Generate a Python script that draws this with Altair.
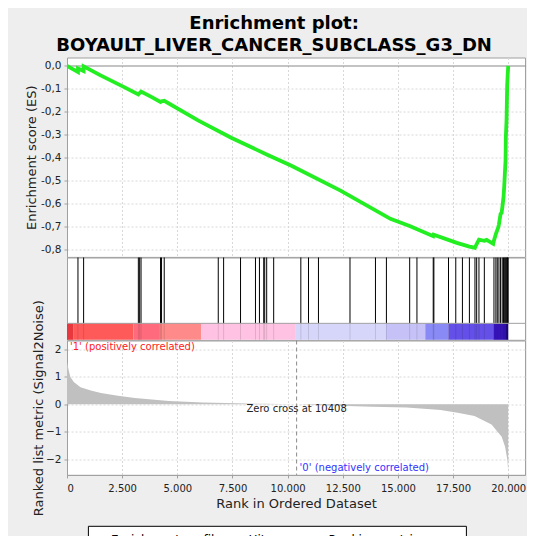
import altair as alt
import pandas as pd

TITLE = ["Enrichment plot:", "BOYAULT_LIVER_CANCER_SUBCLASS_G3_DN"]

# Running enrichment score (rank, ES)
es_rank = [0, 497, 498, 753, 754, 1500, 2500, 3234, 3293, 3356, 3800, 4240, 4285, 4407,
           5940, 7442, 9100, 10150, 12400, 14660, 15560, 16600, 16620, 17670, 18240,
           18490, 18570, 18673, 18917, 19020, 19320, 19353, 19441, 19503, 19549, 19578,
           19653, 19700, 19743, 19788, 19820, 19858, 19879, 19892, 19923, 19937, 19953,
           19975, 20000]
es_value = [0.0, -0.027, -0.011, -0.022, -0.002, -0.040, -0.088, -0.124, -0.118, -0.112,
            -0.134, -0.157, -0.154, -0.152, -0.237, -0.313, -0.388, -0.434, -0.543,
            -0.666, -0.698, -0.742, -0.735, -0.771, -0.787, -0.792, -0.776, -0.757,
            -0.762, -0.758, -0.775, -0.760, -0.732, -0.715, -0.703, -0.690, -0.645,
            -0.640, -0.608, -0.570, -0.521, -0.450, -0.412, -0.310, -0.237, -0.164,
            -0.084, -0.040, 0.0]

# Positions of the gene-set members in the ranked list
hit_rank = [497, 753, 3234, 3293, 3356, 4240, 4285, 4407, 6856, 7099, 7866, 8543, 8723,
            8917, 8962, 9052, 9368, 10599, 10947, 11398, 12827, 13982, 14478, 15533,
            15862, 16600, 16630, 17293, 17622, 17924, 18240, 18492, 18569, 18673, 18917,
            19353, 19441, 19503, 19578, 19653, 19728, 19788, 19820, 19858, 19890, 19930,
            19955, 19975, 19995]

# Ranked list metric (Signal2Noise)
metric_rank = [0, 77, 153, 307, 613, 1078, 1538, 2308, 3076, 4615, 6157, 7695, 9000,
               10408, 10768, 12314, 13852, 15394, 16163, 16933, 17704, 18471, 19242,
               19703, 19857, 19965, 20000]
metric_value = [1.55, 1.24, 0.99, 0.81, 0.62, 0.50, 0.41, 0.31, 0.23, 0.12, 0.06, 0.035,
                0.015, 0.0, -0.01, -0.05, -0.09, -0.12, -0.16, -0.21, -0.31, -0.43,
                -0.74, -1.18, -1.55, -2.05, -2.48]

# Colour bar segments
bar_start = [0, 302, 3009, 4213, 6089, 10375, 14434, 16238, 17293, 19323, 19900]
bar_end = [302, 3009, 4213, 6089, 10375, 14434, 16238, 17293, 19323, 19900, 20000]
bar_color = ["#e8383d", "#ff5a5a", "#ff6b7d", "#ff8a8a", "#ffc2e3", "#d6d6fb",
             "#c6c2f7", "#8a8af6", "#6450e8", "#3a14c4", "#240a96"]

zero_cross = [10408]
x_ticks = [0, 2500, 5000, 7500, 10000, 12500, 15000, 17500, 20000]
es_ticks = [-0.8, -0.7, -0.6, -0.5, -0.4, -0.3, -0.2, -0.1, 0.0]
metric_ticks = [-2, -1, 0, 1, 2]
legend_labels = ["Enrichment profile", "Hits", "", "Ranking metric scores"]
legend_colors = ["#22ee22", "#000000", "#d0d0d0", "#c0c0c0"]

FONT = "DejaVu Sans"
W = 458
GRID = "#d8d8d8"

es_df = pd.DataFrame({"rank": es_rank, "es": es_value, "series": legend_labels[0]})
hits_df = pd.DataFrame({"rank": hit_rank, "series": legend_labels[1]})
metric_df = pd.DataFrame({"rank": metric_rank, "metric": metric_value, "series": legend_labels[3]})
bar_df = pd.DataFrame({"start": bar_start, "end": bar_end, "col": bar_color})
zc_df = pd.DataFrame({"z": zero_cross})

x_scale = alt.Scale(domain=[0, 20760], nice=False, zero=False)
color_scale = alt.Scale(domain=legend_labels, range=legend_colors)
no_title_legend = alt.Legend(title=None)

# ---------------- ES panel (single layer; the 0,0 line is the solid grid line) ----------------
es_y = alt.Scale(domain=[-0.832, 0.0366], nice=False, zero=False)
es_panel = alt.Chart(es_df).mark_line(strokeWidth=3.8, clip=True).encode(
    x=alt.X("rank:Q", scale=x_scale,
            axis=alt.Axis(values=x_ticks, labels=False, ticks=False, domain=False,
                          title=None, grid=True, gridDash=[2, 2], gridColor=GRID)),
    y=alt.Y("es:Q", scale=es_y,
            axis=alt.Axis(values=es_ticks, title="Enrichment score (ES)", labelOverlap=False,
                          labelExpr="(datum.value < 0 ? '-' : '') + replace(format(abs(datum.value), '.1f'), '.', ',')",
                          grid=True,
                          gridDash={"condition": {"test": "datum.value === 0", "value": []}, "value": [2, 2]},
                          gridColor={"condition": {"test": "datum.value === 0", "value": "#888888"}, "value": GRID},
                          titlePadding=2)),
    color=alt.Color("series:N", scale=color_scale, legend=no_title_legend),
).properties(width=W, height=199.4)

# ---------------- Hits + colour bar panel ----------------
band = alt.Scale(domain=[0, 1], nice=False, zero=False)
hits = alt.Chart(hits_df).mark_rule(strokeWidth=1).encode(
    x=alt.X("rank:Q", scale=x_scale, axis=None),
    y=alt.YDatum(0.2, type="quantitative", scale=band, axis=None),
    y2=alt.Y2Datum(1),
    color=alt.Color("series:N", scale=color_scale, legend=no_title_legend),
)
bar = alt.Chart(bar_df).mark_rect().encode(
    x=alt.X("start:Q", scale=x_scale, axis=None),
    x2="end:Q",
    y=alt.YDatum(0, type="quantitative", scale=band, axis=None),
    y2=alt.Y2Datum(0.2),
    fill=alt.Fill("col:N", scale=None),
)
hits_in_bar = alt.Chart(hits_df).mark_rule(strokeWidth=1, color="black", opacity=0.12).encode(
    x=alt.X("rank:Q", scale=x_scale, axis=None),
    y=alt.YDatum(0, type="quantitative", scale=band, axis=None),
    y2=alt.Y2Datum(0.2),
)
sep = alt.Chart(pd.DataFrame({"v": [0.2]})).mark_rule(color="#a0a0a0", strokeWidth=1).encode(
    y=alt.Y("v:Q", scale=band, axis=None)
)
hits_panel = alt.layer(bar, hits_in_bar, hits, sep).properties(width=W, height=82.3)

# ---------------- Ranked metric panel ----------------
m_y = alt.Scale(domain=[-2.57, 2.32], nice=False, zero=False)
area = alt.Chart(metric_df).mark_area(clip=True).encode(
    x=alt.X("rank:Q", scale=x_scale,
            axis=alt.Axis(values=x_ticks, title="Rank in Ordered Dataset",
                          labelExpr="replace(format(datum.value, ','), ',', '.')",
                          labelFontSize=10, labelPadding=6,
                          grid=True, gridDash=[2, 2], gridColor=GRID, titlePadding=4)),
    y=alt.Y("metric:Q", scale=m_y,
            axis=alt.Axis(values=metric_ticks, title="Ranked list metric (Signal2Noise)",
                          format="d", grid=True, gridDash=[2, 2], gridColor=GRID,
                          titlePadding=0.5)),
    y2=alt.Y2Datum(0),
    color=alt.Color("series:N", scale=color_scale, legend=no_title_legend),
)
zc_rule = alt.Chart(zc_df).mark_rule(color="#8a8a8a", strokeDash=[4, 3], strokeWidth=1).encode(
    x=alt.X("z:Q", scale=x_scale)
)
zc_text = alt.Chart(zc_df).mark_text(font=FONT, fontSize=10, color="#222222", baseline="middle").encode(
    x=alt.X("z:Q", scale=x_scale),
    y=alt.value(68),
    text=alt.value("Zero cross at 10408"),
)
pos_text = alt.Chart(pd.DataFrame({"z": [0]})).mark_text(
    font=FONT, fontSize=10, color="#ff2020", align="left", baseline="middle", dx=3
).encode(
    x=alt.X("z:Q", scale=x_scale), y=alt.value(6),
    text=alt.value("'1' (positively correlated)"),
)
neg_text = alt.Chart(zc_df).mark_text(
    font=FONT, fontSize=10, color="#3333ff", align="left", baseline="middle", dx=3
).encode(
    x=alt.X("z:Q", scale=x_scale), y=alt.value(127),
    text=alt.value("'0' (negatively correlated)"),
)
metric_panel = alt.layer(area, zc_rule, zc_text, pos_text, neg_text).properties(width=W, height=134.4)

chart = alt.vconcat(es_panel, hits_panel, metric_panel, spacing=0, bounds="flush").resolve_scale(
    color="shared"
).resolve_legend(color="shared").properties(
    title=alt.Title(TITLE, font=FONT, fontSize=18, fontWeight="bold", color="black",
                    anchor="middle", lineHeight=21.5, offset=2.3, dx=-1.5),
    background="#eeeeee",
    padding={"left": 17, "top": 6.5, "right": 0, "bottom": 0},
).configure_view(
    fill="white", stroke="#a0a0a0"
).configure_axis(
    labelFont=FONT, labelFontSize=10.5, labelColor="#222222",
    titleFont=FONT, titleFontSize=13, titleFontWeight="normal", titleColor="#222222",
    domainColor="#a0a0a0", tickColor="#a0a0a0", tickSize=3, labelPadding=3,
).configure_legend(
    orient="none", legendX=20.9, legendY=468.3, direction="horizontal",
    strokeColor="#000000", fillColor="white", padding=4,
    symbolType="stroke", symbolStrokeWidth=2, symbolSize=280,
    labelFont=FONT, labelFontSize=12, labelColor="black",
    columnPadding=4.5, labelOffset=0,
)

chart.save("out.html", embed_options={"renderer": "svg", "actions": False})
